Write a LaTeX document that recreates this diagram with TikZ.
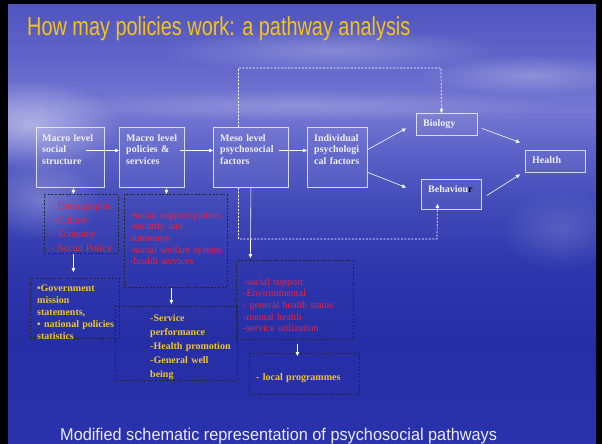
\documentclass[tikz,border=0pt]{standalone}
\usepackage{fontspec}
\usepackage{graphicx}
\setmainfont{Liberation Serif}
\newfontfamily\sansf{Liberation Sans}
\usetikzlibrary{arrows.meta,fadings}
\tikzfading[name=softfade, inner color=transparent!0, outer color=transparent!100]
\definecolor{bgA}{RGB}{80,84,190}
\definecolor{bgB}{RGB}{98,102,202}
\definecolor{bgC}{RGB}{118,120,210}
\definecolor{bgD}{RGB}{92,98,200}
\definecolor{bgE}{RGB}{68,76,186}
\definecolor{bgF}{RGB}{48,56,174}
\definecolor{bgG}{RGB}{38,46,166}
\definecolor{bgH}{RGB}{42,50,172}
\definecolor{titley}{RGB}{245,196,20}
\definecolor{txty}{RGB}{240,198,40}
\definecolor{txtr}{RGB}{240,34,58}
\definecolor{boxw}{RGB}{238,238,250}
\tikzset{
  boxframe/.style={draw=boxw, draw opacity=0.85, line width=0.9pt, fill=white, fill opacity=0.06, inner sep=0pt, anchor=north west},
  boxtxt/.style={font=\bfseries\fontsize{10}{11.7}\selectfont, text=boxw, text width=90pt, align=left, inner sep=0pt, anchor=base west},
  dbox/.style={preaction={draw=white!78!gray, line width=0.8pt}, draw=black!85, dash pattern=on 2pt off 1.6pt, line width=0.8pt, inner sep=0pt, anchor=north west},
  redtxt/.style={font=\fontsize{10}{11.7}\selectfont, text=txtr, text width=120pt, align=left, inner sep=0pt, anchor=base west},
  yeltxt/.style={font=\bfseries\fontsize{10}{12}\selectfont, text=txty, text width=120pt, align=left, inner sep=0pt, anchor=base west},
  arr/.style={draw=white, line width=0.6pt, -{Triangle[length=4pt,width=3.6pt]}},
  darr/.style={draw=white, line width=0.7pt, dash pattern=on 2pt off 1.5pt, -{Triangle[length=4pt,width=3.6pt]}},
  haze/.style={fill=white, path fading=softfade},
}
\begin{document}
\begin{tikzpicture}[x=1pt,y=-1pt]
\useasboundingbox (0,0) rectangle (602,444);
% background
\fill[black] (0,0) rectangle (602,444);
\shade[top color=bgA,bottom color=bgB] (8,5) rectangle (596,61);
\shade[top color=bgB,bottom color=bgC] (8,60) rectangle (596,111);
\shade[top color=bgC,bottom color=bgD] (8,110) rectangle (596,151);
\shade[top color=bgD,bottom color=bgE] (8,150) rectangle (596,201);
\shade[top color=bgE,bottom color=bgF] (8,200) rectangle (596,261);
\shade[top color=bgF,bottom color=bgG] (8,260) rectangle (596,341);
\shade[top color=bgG,bottom color=bgH] (8,340) rectangle (596,444);
% haze
\begin{scope}
\clip (8,5) rectangle (596,444);
\fill[haze, fill opacity=0.45] (30,125) ellipse (90 and 45);
\fill[haze, fill opacity=0.25] (40,200) ellipse (60 and 40);
\fill[haze, fill opacity=0.25] (330,50) ellipse (170 and 22);
\fill[haze, fill opacity=0.25] (530,75) ellipse (110 and 20);
\fill[haze, fill opacity=0.2] (300,105) ellipse (260 and 16);
\fill[haze, fill opacity=0.15] (560,230) ellipse (60 and 40);
\end{scope}
% title and caption
\node[anchor=base west, inner sep=0pt, text=titley, font=\sansf\fontsize{26}{26}\selectfont] (title) at (27,36) {\scalebox{0.765}[1]{How may policies work: a pathway analysis}};
\node[anchor=base west, inner sep=0pt, text=white!92!blue, font=\sansf\fontsize{17}{17}\selectfont] (caption) at (60,440) {\scalebox{0.957}[1]{Modified schematic representation of psychosocial pathways}};
% main boxes
\node[boxframe, minimum width=68pt, minimum height=60pt] (b1) at (36,127) {};
\node[boxframe, minimum width=65pt, minimum height=60pt] (b2) at (119,127) {};
\node[boxframe, minimum width=75pt, minimum height=60pt] (b3) at (213,127) {};
\node[boxframe, minimum width=60pt, minimum height=60pt] (b4) at (307,127) {};
\node[boxframe, minimum width=61pt, minimum height=22pt] (bio) at (416,113) {};
\node[boxframe, minimum width=60pt, minimum height=22pt] (health) at (525,150) {};
\node[boxframe, minimum width=60pt, minimum height=30pt] (behav) at (421,179) {};
\node[boxtxt] (b1t) at (42,141) {Macro level\\social\\structure};
\node[boxtxt] (b2t) at (126,141) {Macro level\\policies \&\\services};
\node[boxtxt] (b3t) at (220,141) {Meso level\\psychosocial\\factors};
\node[boxtxt] (b4t) at (314,141) {Individual\\psychologi\\cal factors};
\node[boxtxt] (biot) at (423,126) {Biology};
\node[boxtxt] (healtht) at (532,163) {Health};
\node[boxtxt] (behavt) at (428,192) {Behaviou\textcolor{black}{r}};
% dashed boxes
\node[dbox, minimum width=74pt, minimum height=59pt] (A) at (44,194) {};
\node[dbox, minimum width=103pt, minimum height=93pt] (B) at (124,194) {};
\node[dbox, minimum width=89pt, minimum height=60pt] (C) at (30,278) {};
\node[dbox, minimum width=122pt, minimum height=74pt] (D) at (115,306) {};
\node[dbox, minimum width=117pt, minimum height=79pt] (E) at (236,260) {};
\node[dbox, minimum width=110pt, minimum height=41pt] (F) at (249,353) {};
\node[redtxt, font=\fontsize{10}{14}\selectfont] (At) at (51,209) {- Demographic\\- Culture\\- Economy\\- Social Policy};
\node[redtxt] (Bt) at (130,218) {-social support pattern\\-security and\\autonomy\\-social welfare system\\-health services};
\node[yeltxt] (Ct) at (37,291) {\textbullet Government\\mission\\statements,\\\textbullet{} national policies\\statistics};
\node[yeltxt, font=\bfseries\fontsize{10}{14}\selectfont] (Dt) at (150,321) {-Service\\performance\\-Health promotion\\-General well\\being};
\node[redtxt] (Et) at (243,285) {-social support\\-Environmental\\- general health status\\-mental health\\-service utilization};
\node[yeltxt] (Ft) at (256,380) {- local programmes};
% solid arrows
\draw[arr] ([shift={(-19pt,7pt)}]b1.east) -- ([yshift=7pt]b2.west);
\draw[arr] ([shift={(-5pt,7pt)}]b2.east) -- ([yshift=7pt]b3.west);
\draw[arr] ([shift={(-10pt,7pt)}]b3.east) -- ([yshift=7pt]b4.west);
\draw[arr] ([yshift=8pt]b4.east) -- ([shift={(-10pt,-4pt)}]bio.west);
\draw[arr] ([yshift=-15pt]b4.east) -- ([shift={(-15pt,7pt)}]behav.west);
\draw[arr] ([shift={(4pt,-4pt)}]bio.east) -- ([shift={(-5pt,19pt)}]health.west);
\draw[arr] ([shift={(5pt,-1pt)}]behav.east) -- ([shift={(-5pt,-13pt)}]health.west);
\draw[arr] ([xshift=3pt]b1.south) -- ([xshift=-8pt]A.north);
\draw[arr] ([xshift=14.5pt]b2.south) -- ([xshift=-9.5pt]B.north);
\draw[arr] (b3.south) -- ([shift={(-44.5pt,2pt)}]E.north);
\draw[arr] ([xshift=-8pt]A.south) -- ([shift={(-1.5pt,6pt)}]C.north);
\draw[arr] ([xshift=-4.5pt]B.south) -- ([shift={(-5pt,2pt)}]D.north);
\draw[arr] ([shift={(2.5pt,-4pt)}]E.south) -- ([shift={(-7pt,-3pt)}]F.north);
% dashed connectors
\coordinate (dtop) at (441,68);
\coordinate (dbot) at (437,239);
\draw[darr] ([xshift=-12.5pt]b3.north) |- (dtop) -- ([xshift=-5.5pt]bio.north);
\draw[darr] ([xshift=-12.5pt]b3.south) |- (dbot) -- ([shift={(-14pt,6pt)}]behav.south);
\end{tikzpicture}
\end{document}
